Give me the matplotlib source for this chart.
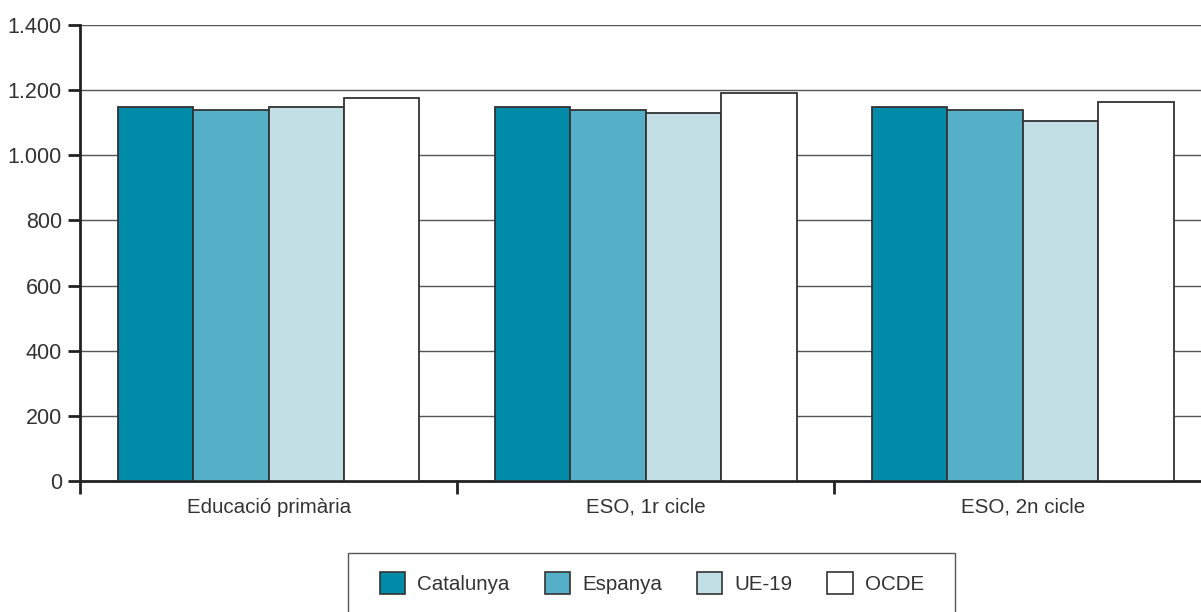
import matplotlib
matplotlib.use("Agg")
import matplotlib.pyplot as plt
from matplotlib.patches import Rectangle
import numpy as np

plt.rcParams['font.family'] = ['Liberation Sans', 'DejaVu Sans']

categories = ["Educació primària", "ESO, 1r cicle", "ESO, 2n cicle"]
series = ["Catalunya", "Espanya", "UE-19", "OCDE"]
catalunya = [1149, 1148, 1148]
espanya = [1139, 1138, 1139]
ue19 = [1147, 1131, 1105]
ocde = [1177, 1190, 1163]
yticks = [0, 200, 400, 600, 800, 1000, 1200, 1400]
ytick_labels = ["0", "200", "400", "600", "800", "1.000", "1.200", "1.400"]

colors = ["#008ca8", "#55afc7", "#c2dfe6", "#ffffff"]
values = [catalunya, espanya, ue19, ocde]

W, H = 1201, 612
fig = plt.figure(figsize=(W/100, H/100), dpi=100)
ax = fig.add_axes([80/W, 1-481/H, (1211.5-80)/W, (481-25)/H])

x = np.arange(len(categories))
w = 0.2
for i, (name, vals, c) in enumerate(zip(series, values, colors)):
    ax.bar(x + (i - 1.5) * w, vals, w, color=c, edgecolor="#333333",
           linewidth=1.3, label=name, zorder=3)

ax.set_xlim(-0.5, len(categories) - 0.5)
ax.set_ylim(0, 1400)
ax.set_yticks(yticks)
ax.set_yticklabels(ytick_labels)
ax.yaxis.grid(True, color="#555555", linewidth=1.0, zorder=0)
ax.set_axisbelow(True)

ax.set_xticks(x)
ax.set_xticklabels(categories)
ax.set_xticks(np.arange(len(categories) + 1) - 0.5, minor=True)
ax.tick_params(axis='x', which='major', length=0, pad=12, labelsize=14.8, labelcolor="#333333")
ax.tick_params(axis='x', which='minor', length=9, width=2, color="#222222")
ax.tick_params(axis='y', length=9, width=2, color="#222222", pad=4, labelsize=15.5, labelcolor="#333333")

for s in ["top", "right"]:
    ax.spines[s].set_visible(False)
ax.spines["left"].set_linewidth(2)
ax.spines["left"].set_color("#222222")
ax.spines["bottom"].set_linewidth(2)
ax.spines["bottom"].set_color("#222222")

# legend frame
fig.patches.append(Rectangle((348/W, -0.02), (955-348)/W, (612-553)/H + 0.02,
                             transform=fig.transFigure, facecolor="white",
                             edgecolor="#555555", linewidth=1.0, zorder=1))

handles, labels = ax.get_legend_handles_labels()
leg = fig.legend(handles, labels, loc="center left", bbox_to_anchor=(380/W, 1-583/H),
                 ncol=4, fontsize=14.8, frameon=False,
                 handlelength=1.22, handleheight=1.22, handletextpad=0.6, columnspacing=1.7,
                 borderpad=0, borderaxespad=0, labelcolor="#333333")
leg.set_zorder(2)
for h in leg.legend_handles:
    h.set_edgecolor("#333333")
    h.set_linewidth(1.2)

fig.savefig("out.png", dpi=100)
